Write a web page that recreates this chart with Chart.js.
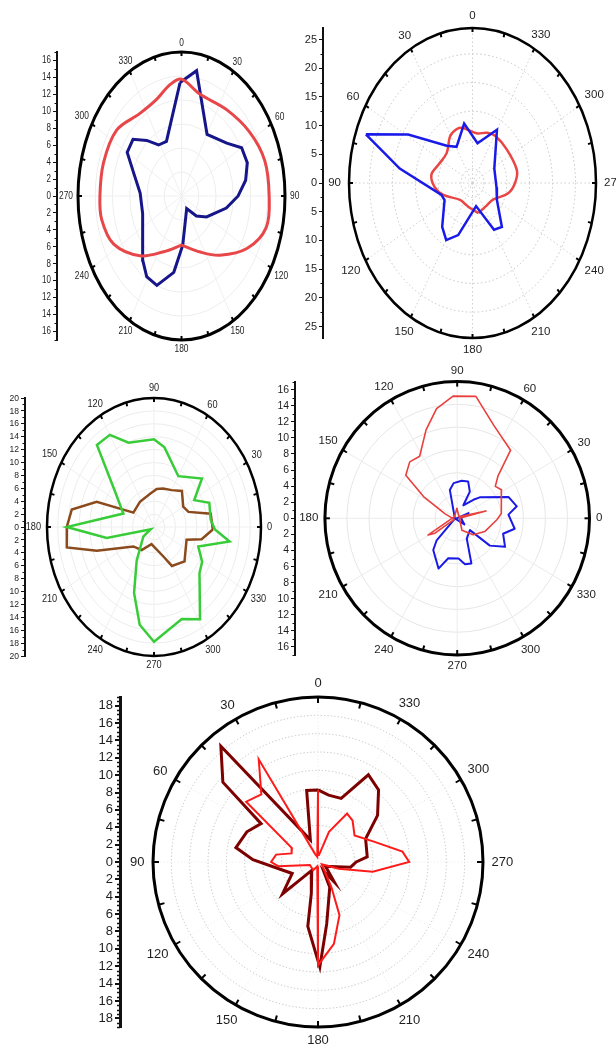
<!DOCTYPE html>
<html>
<head>
<meta charset="utf-8">
<script src="https://cdn.jsdelivr.net/npm/chart.js@4.4.1/dist/chart.umd.min.js"></script>
<style>
  html, body { margin: 0; padding: 0; background: #fff; }
  #fig { position: relative; width: 616px; height: 1047px; overflow: hidden; background: #fff; }
  #fig canvas { position: absolute; }
</style>
</head>
<body>
<div id="fig"></div>
<script>
// ---- angle labels on every rim ----
const angleTicks = [0, 30, 60, 90, 120, 150, 180, 210, 240, 270, 300, 330];

// ---- radial axis tick values (labels show the absolute value) ----
const p1Ticks = [-16, -14, -12, -10, -8, -6, -4, -2, 0, 2, 4, 6, 8, 10, 12, 14, 16];
const p2Ticks = [-25, -20, -15, -10, -5, 0, 5, 10, 15, 20, 25];
const p3Ticks = [-20, -18, -16, -14, -12, -10, -8, -6, -4, -2, 0, 2, 4, 6, 8, 10, 12, 14, 16, 18, 20];
const p4Ticks = [-16, -14, -12, -10, -8, -6, -4, -2, 0, 2, 4, 6, 8, 10, 12, 14, 16];
const p5Ticks = [-18, -16, -14, -12, -10, -8, -6, -4, -2, 0, 2, 4, 6, 8, 10, 12, 14, 16, 18];

// ---- panel 1 (0 at top, clockwise) ----
const p1NavyDeg = [359, 9.5, 30, 50, 60, 70, 80, 90, 101, 121, 134, 150, 178, 188, 201, 211, 220, 235, 252, 273, 289, 300, 310, 319, 328, 339];
const p1NavyR   = [13.4, 15.0, 8.4, 9.7, 11.4, 11.5, 10.7, 9.3, 7.5, 4.8, 3.4, 1.7, 5.8, 9.1, 11.3, 11.1, 9.9, 7.8, 6.7, 6.8, 8.3, 10.3, 10.4, 8.7, 7.1, 6.9];
const p1RedDeg  = [180, 204, 224, 243, 258, 270, 287, 306, 325, 340, 352, 0, 14, 36, 56, 73, 90, 105, 120, 138, 155];
const p1RedR    = [5.8, 7.2, 9.8, 12.5, 13.4, 13.4, 13.4, 13.2, 11.9, 12.1, 13.3, 13.8, 12.4, 12.6, 13.5, 14.3, 14.4, 14.4, 12.4, 9.4, 7.3];

// ---- panel 2 (0 at top, counter-clockwise) ----
const p2BlueDeg = [70, 59, 41, 29, 10, 351, 330, 298, 262, 241, 220, 210, 191, 161, 150, 139, 116, 107, 81];
const p2BlueR   = [24.8, 16.4, 8.6, 7.2, 10.5, 7.0, 10.7, 5.4, 5.3, 6.1, 10.0, 9.4, 4.1, 9.6, 11.5, 10.1, 6.8, 7.1, 16.1];
const p2RedDeg  = [194, 219, 238, 257, 270, 283, 308, 329, 340, 354, 12, 20, 31, 47, 67, 81, 95, 108, 137, 156, 173];
const p2RedR    = [5.4, 5.0, 5.4, 8.0, 9.3, 9.95, 9.5, 9.6, 9.3, 8.7, 9.8, 10.0, 9.5, 7.7, 8.1, 9.1, 8.3, 6.7, 4.0, 4.0, 4.4];

// ---- panel 3 (0 at right, counter-clockwise) ----
const p3GreenDeg = [6, 20, 29, 40, 60, 81, 90, 110, 120, 130, 143, 160, 180, 191, 210, 217, 238, 250, 260, 270, 290, 301, 320, 329, 340, 351, 358];
const p3GreenR   = [10.65, 11.0, 8.6, 11.7, 9.1, 12.5, 13.6, 13.9, 16.5, 16.6, 9.1, 6.1, 16.3, 9.0, 0.7, 2.5, 6.1, 10.9, 15.4, 17.8, 15.2, 16.7, 11.1, 10.5, 8.8, 14.3, 11.4];
const p3BrownDeg = [358, 11, 20, 30, 47, 60, 74, 85, 98, 124, 150, 160, 170, 180, 191, 199, 218, 237, 260, 291, 299, 317, 342, 348];
const p3BrownR   = [11.0, 10.8, 6.85, 6.3, 7.65, 6.6, 6.2, 5.9, 5.2, 4.7, 4.45, 11.4, 15.6, 16.3, 16.6, 11.3, 4.9, 4.25, 2.7, 4.9, 6.9, 7.8, 6.4, 9.1];

// ---- panel 4 (0 at right, counter-clockwise) ----
const p4RedDeg  = [160, 148, 141, 131, 122, 110, 101, 92, 81, 68, 51, 45, 39, 32, 6, 358, 335, 315, 292, 0, 14, 40, 92, 150, 209, 213, 200];
const p4RedR    = [1.7, 5.1, 8.5, 9.3, 9.1, 11.7, 13.9, 15.2, 15.35, 12.5, 10.9, 7.4, 6.3, 6.7, 5.7, 5.1, 3.9, 2.9, 1.6, 0.3, 3.8, 0.3, 1.25, 0.4, 4.3, 3.4, 0.4];
const p4BlueDeg = [180, 105, 96, 83, 73, 64, 64, 48, 42, 22, 11, 4, 350, 342, 330, 321, 318, 296, 288, 280, 272, 257, 249, 232, 226, 200, 24, 0, 320];
const p4BlueR   = [0.3, 3.65, 4.4, 4.7, 4.8, 3.7, 1.8, 3.1, 3.9, 7.1, 7.8, 6.6, 7.5, 6.2, 7.1, 5.4, 2.2, 2.8, 5.9, 5.8, 5.0, 5.1, 6.7, 5.0, 3.8, 0.4, 1.6, 0.5, 1.2];

// ---- panel 5 (0 at top, counter-clockwise) ----
const p5DarkDeg   = [0, 9, 19, 40, 50, 56, 67, 80, 88, 114, 132, 143, 168, 171, 181, 188, 205, 212, 219, 240, 261, 270, 276, 296, 308, 320, 330, 340, 351];
const p5DarkR     = [8.3, 8.35, 2.7, 17.4, 14.3, 7.9, 8.9, 9.6, 7.5, 3.25, 5.5, 1.2, 3.7, 7.5, 12.1, 7.2, 3.2, 1.2, 3.0, 1.0, 3.8, 4.4, 5.7, 6.1, 8.7, 10.85, 11.6, 7.8, 7.8];
const p5BrightDeg = [0, 8, 20, 30, 40, 50, 62, 72, 80, 90, 96, 110, 150, 170, 180, 191, 202, 208, 240, 252, 260, 270, 277, 290, 306, 320, 329, 340, 352];
const p5BrightR   = [8.26, 0.6, 1.0, 13.65, 10.15, 10.8, 3.4, 3.2, 4.9, 5.4, 4.6, 1.0, 1.1, 0.5, 11.9, 9.6, 6.6, 3.3, 0.5, 2.5, 6.4, 10.5, 9.8, 6.85, 5.2, 6.2, 6.5, 3.7, 0.8];

const FONT = '"Liberation Sans", Arial, Helvetica, sans-serif';

// polar (deg, r) -> cartesian data values, closed loop
function polarPoints(deg, r, orient) {
  const pts = deg.map((d, i) => {
    const phi = (orient.zero + orient.sign * d) * Math.PI / 180;
    return { x: r[i] * Math.cos(phi), y: r[i] * Math.sin(phi) };
  });
  pts.push({ x: pts[0].x, y: pts[0].y });
  return pts;
}

function frameOf(chart, o) {
  const xs = chart.scales.x, ys = chart.scales.y;
  const cx = xs.getPixelForValue(0), cy = ys.getPixelForValue(0);
  const rx = xs.getPixelForValue(o.R) - cx, ry = cy - ys.getPixelForValue(o.R);
  const dir = (a, v) => {
    const phi = (o.orient.zero + o.orient.sign * a) * Math.PI / 180;
    const k = (v === undefined ? o.R : v) / o.R;
    return { x: Math.cos(phi) * rx * k, y: -Math.sin(phi) * ry * k };
  };
  return { cx, cy, rx, ry, dir };
}

function squeezedText(ctx, text, x, y, sx, align) {
  ctx.save();
  ctx.translate(x, y);
  ctx.scale(sx, 1);
  ctx.textAlign = align;
  ctx.fillText(text, 0, 0);
  ctx.restore();
}

// polar grid, rim, rim ticks, angle labels and radial-axis labels
const polarFrame = {
  id: 'polarFrame',
  beforeDatasetsDraw(chart, args, o) {
    const ctx = chart.ctx, f = frameOf(chart, o);
    ctx.save();
    ctx.strokeStyle = o.gridColor;
    ctx.lineWidth = 1;
    ctx.setLineDash(o.gridDash);
    o.rings.forEach(v => {
      ctx.beginPath();
      ctx.ellipse(f.cx, f.cy, f.rx * v / o.R, f.ry * v / o.R, 0, 0, Math.PI * 2);
      ctx.stroke();
    });
    ctx.strokeStyle = o.spokeColor;
    for (let a = 0; a < 360; a += 30) {
      const d = f.dir(a);
      ctx.beginPath();
      ctx.moveTo(f.cx, f.cy);
      ctx.lineTo(f.cx + d.x, f.cy + d.y);
      ctx.stroke();
    }
    ctx.restore();
  },
  afterDatasetsDraw(chart, args, o) {
    const ctx = chart.ctx, f = frameOf(chart, o);
    ctx.save();
    ctx.setLineDash([]);
    ctx.strokeStyle = '#000';
    ctx.lineWidth = o.rimWidth;
    ctx.beginPath();
    ctx.ellipse(f.cx, f.cy, f.rx, f.ry, 0, 0, Math.PI * 2);
    ctx.stroke();

    ctx.lineWidth = o.rimTickWidth;
    for (let a = 0; a < 360; a += 15) {
      const d = f.dir(a);
      const len = Math.hypot(d.x, d.y);
      const k = 1 - o.rimTick / len;
      ctx.beginPath();
      ctx.moveTo(f.cx + d.x, f.cy + d.y);
      ctx.lineTo(f.cx + d.x * k, f.cy + d.y * k);
      ctx.stroke();
    }

    ctx.fillStyle = '#1e1e1e';
    ctx.textBaseline = 'middle';
    ctx.font = o.angleFont.size + 'px ' + FONT;
    angleTicks.forEach(a => {
      const d = f.dir(a);
      const len = Math.hypot(d.x, d.y);
      const ux = d.x / len, uy = d.y / len;
      const txt = String(a);
      const w = ctx.measureText(txt).width * o.angleFont.sx;
      const h = o.angleFont.size * 0.72;
      const off = o.labelGap + Math.abs(ux) * w / 2 + Math.abs(uy) * h / 2;
      squeezedText(ctx, txt, f.cx + d.x + ux * off, f.cy + d.y + uy * off, o.angleFont.sx, 'center');
    });

    // radial axis on the left: minor ticks + labels
    const ys = chart.scales.y;
    const ax = chart.chartArea.left;
    ctx.strokeStyle = '#111';
    ctx.lineWidth = o.minorWidth;
    const n0 = Math.ceil(-o.R / o.minorStep), n1 = Math.floor(o.R / o.minorStep);
    for (let i = n0; i <= n1; i++) {
      const v = i * o.minorStep;
      if (Math.abs(v / o.majorStep - Math.round(v / o.majorStep)) < 1e-6) continue;
      const y = Math.round(ys.getPixelForValue(v)) + 0.5;
      ctx.beginPath();
      ctx.moveTo(ax - o.minorLen, y);
      ctx.lineTo(ax, y);
      ctx.stroke();
    }
    ctx.font = o.axisFont.size + 'px ' + FONT;
    ys.ticks.forEach(t => {
      squeezedText(ctx, String(Math.abs(t.value)), ax - o.majorLen - 2, ys.getPixelForValue(t.value), o.axisFont.sx, 'right');
    });
    ctx.restore();
  }
};

const fig = document.getElementById('fig');

function polarPanel(p) {
  const [bx, by, bw, bh] = p.box;
  const g = p.geom;
  const canvas = document.createElement('canvas');
  canvas.width = bw; canvas.height = bh;
  canvas.style.left = bx + 'px'; canvas.style.top = by + 'px';
  canvas.style.width = bw + 'px'; canvas.style.height = bh + 'px';
  fig.appendChild(canvas);

  const unitX = g.semiH / g.R;
  const xMin = -(g.cx - g.axisX) / unitX;
  const areaTop = g.cy - g.semiV, areaBottom = g.cy + g.semiV, areaRight = g.cx + g.semiH;

  new Chart(canvas, {
    type: 'scatter',
    data: {
      datasets: p.series.map(s => ({
        data: polarPoints(s.deg, s.r, p.orient),
        showLine: true,
        pointRadius: 0,
        borderColor: s.color,
        borderWidth: s.width,
        borderJoinStyle: s.join || 'miter',
        tension: s.tension || 0,
        fill: false
      }))
    },
    options: {
      responsive: false,
      animation: false,
      events: [],
      layout: {
        padding: {
          left: g.axisX - bx - p.axisWidth,
          top: areaTop - by,
          right: bx + bw - areaRight,
          bottom: by + bh - areaBottom
        }
      },
      plugins: {
        legend: { display: false },
        tooltip: { enabled: false },
        polarFrame: Object.assign({ R: g.R, orient: p.orient }, p.frame)
      },
      scales: {
        x: { type: 'linear', display: false, min: xMin, max: g.R },
        y: {
          type: 'linear', position: 'left', min: -g.R, max: g.R,
          afterFit: s => { s.width = p.axisWidth; },
          afterBuildTicks: s => { s.ticks = p.ticks.map(v => ({ value: v })); },
          ticks: { display: false },
          grid: { display: true, drawOnChartArea: false, drawTicks: true, tickLength: p.frame.majorLen,
                  color: '#111', tickColor: '#111', lineWidth: p.frame.majorWidth },
          border: { display: true, color: '#111', width: p.frame.axisWidth }
        }
      }
    },
    plugins: [polarFrame]
  });
}

function range(step, max) { const out = []; for (let v = step; v < max - 1e-6; v += step) out.push(v); return out; }

// Panel 1
polarPanel({
  box: [0, 0, 310, 360],
  geom: { axisX: 57, cx: 181.5, cy: 196, semiH: 103.5, semiV: 144, R: 17 },
  orient: { zero: 90, sign: -1 },
  ticks: p1Ticks, axisWidth: 28,
  series: [
    { deg: p1RedDeg, r: p1RedR, color: '#e8474a', width: 3, tension: 0.35, join: 'round' },
    { deg: p1NavyDeg, r: p1NavyR, color: '#16168a', width: 3 }
  ],
  frame: { rings: range(17 / 6, 17), gridColor: '#ededed', spokeColor: '#f0f0f0', gridDash: [],
           rimWidth: 3, rimTick: 4, rimTickWidth: 2, labelGap: 5,
           angleFont: { size: 10.5, sx: 0.8 }, axisFont: { size: 10, sx: 0.8 },
           majorStep: 2, minorStep: 1, majorLen: 4, minorLen: 2.5, majorWidth: 1, minorWidth: 1, axisWidth: 2 }
});

// Panel 2
polarPanel({
  box: [296, 0, 320, 362],
  geom: { axisX: 323, cx: 472.5, cy: 183, semiH: 123.5, semiV: 155, R: 27 },
  orient: { zero: 90, sign: 1 },
  ticks: p2Ticks, axisWidth: 24,
  series: [
    { deg: p2BlueDeg, r: p2BlueR, color: '#1a1ae8', width: 2.5 },
    { deg: p2RedDeg, r: p2RedR, color: '#ea4545', width: 2.5, tension: 0.35, join: 'round' }
  ],
  frame: { rings: [2.5, 7.5, 12.5, 17.5, 22.5], gridColor: '#c4c4c4', spokeColor: '#cfcfcf', gridDash: [1.5, 2.5],
           rimWidth: 2.5, rimTick: 4, rimTickWidth: 2, labelGap: 8,
           angleFont: { size: 11.5, sx: 1 }, axisFont: { size: 11, sx: 1 },
           majorStep: 5, minorStep: 2.5, majorLen: 4, minorLen: 2.5, majorWidth: 1, minorWidth: 1, axisWidth: 2 }
});

// Panel 3
polarPanel({
  box: [0, 362, 290, 318],
  geom: { axisX: 25, cx: 154, cy: 527, semiH: 107, semiV: 129, R: 20 },
  orient: { zero: 0, sign: 1 },
  ticks: p3Ticks, axisWidth: 22,
  series: [
    { deg: p3GreenDeg, r: p3GreenR, color: '#38cc38', width: 2.5 },
    { deg: p3BrownDeg, r: p3BrownR, color: '#8b4a1c', width: 2.5 }
  ],
  frame: { rings: range(2, 20), gridColor: '#ececec', spokeColor: '#efefef', gridDash: [],
           rimWidth: 2.5, rimTick: 4, rimTickWidth: 2, labelGap: 6,
           angleFont: { size: 10, sx: 0.92 }, axisFont: { size: 9.5, sx: 0.9 },
           majorStep: 2, minorStep: 1, majorLen: 4, minorLen: 2.5, majorWidth: 1, minorWidth: 1, axisWidth: 2 }
});

// Panel 4
polarPanel({
  box: [270, 362, 346, 318],
  geom: { axisX: 295, cx: 457.2, cy: 518.3, semiH: 132.3, semiV: 136.7, R: 17 },
  orient: { zero: 0, sign: 1 },
  ticks: p4Ticks, axisWidth: 22,
  series: [
    { deg: p4RedDeg, r: p4RedR, color: '#e8403c', width: 1.6, join: 'round' },
    { deg: p4BlueDeg, r: p4BlueR, color: '#1a1ae6', width: 2, join: 'round' }
  ],
  frame: { rings: range(17 / 6, 17), gridColor: '#e6e6e6', spokeColor: '#ebebeb', gridDash: [],
           rimWidth: 3, rimTick: 5, rimTickWidth: 2, labelGap: 6.5,
           angleFont: { size: 11.5, sx: 1 }, axisFont: { size: 11, sx: 0.95 },
           majorStep: 2, minorStep: 1, majorLen: 4, minorLen: 2.5, majorWidth: 1, minorWidth: 1, axisWidth: 2 }
});

// Panel 5
polarPanel({
  box: [70, 670, 480, 377],
  geom: { axisX: 120, cx: 318, cy: 862, semiH: 165, semiV: 165, R: 19 },
  orient: { zero: 90, sign: 1 },
  ticks: p5Ticks, axisWidth: 34,
  series: [
    { deg: p5BrightDeg, r: p5BrightR, color: '#ff1a1a', width: 2 },
    { deg: p5DarkDeg, r: p5DarkR, color: '#7d0000', width: 3 }
  ],
  frame: { rings: range(19 / 9, 19), gridColor: '#bdbdbd', spokeColor: '#ececec', gridDash: [1.2, 2.2],
           rimWidth: 3, rimTick: 6, rimTickWidth: 2, labelGap: 8.5,
           angleFont: { size: 13, sx: 1 }, axisFont: { size: 13, sx: 1 },
           majorStep: 2, minorStep: 0.5, majorLen: 5, minorLen: 3, majorWidth: 2, minorWidth: 1.5, axisWidth: 3 }
});
</script>
</body>
</html>
